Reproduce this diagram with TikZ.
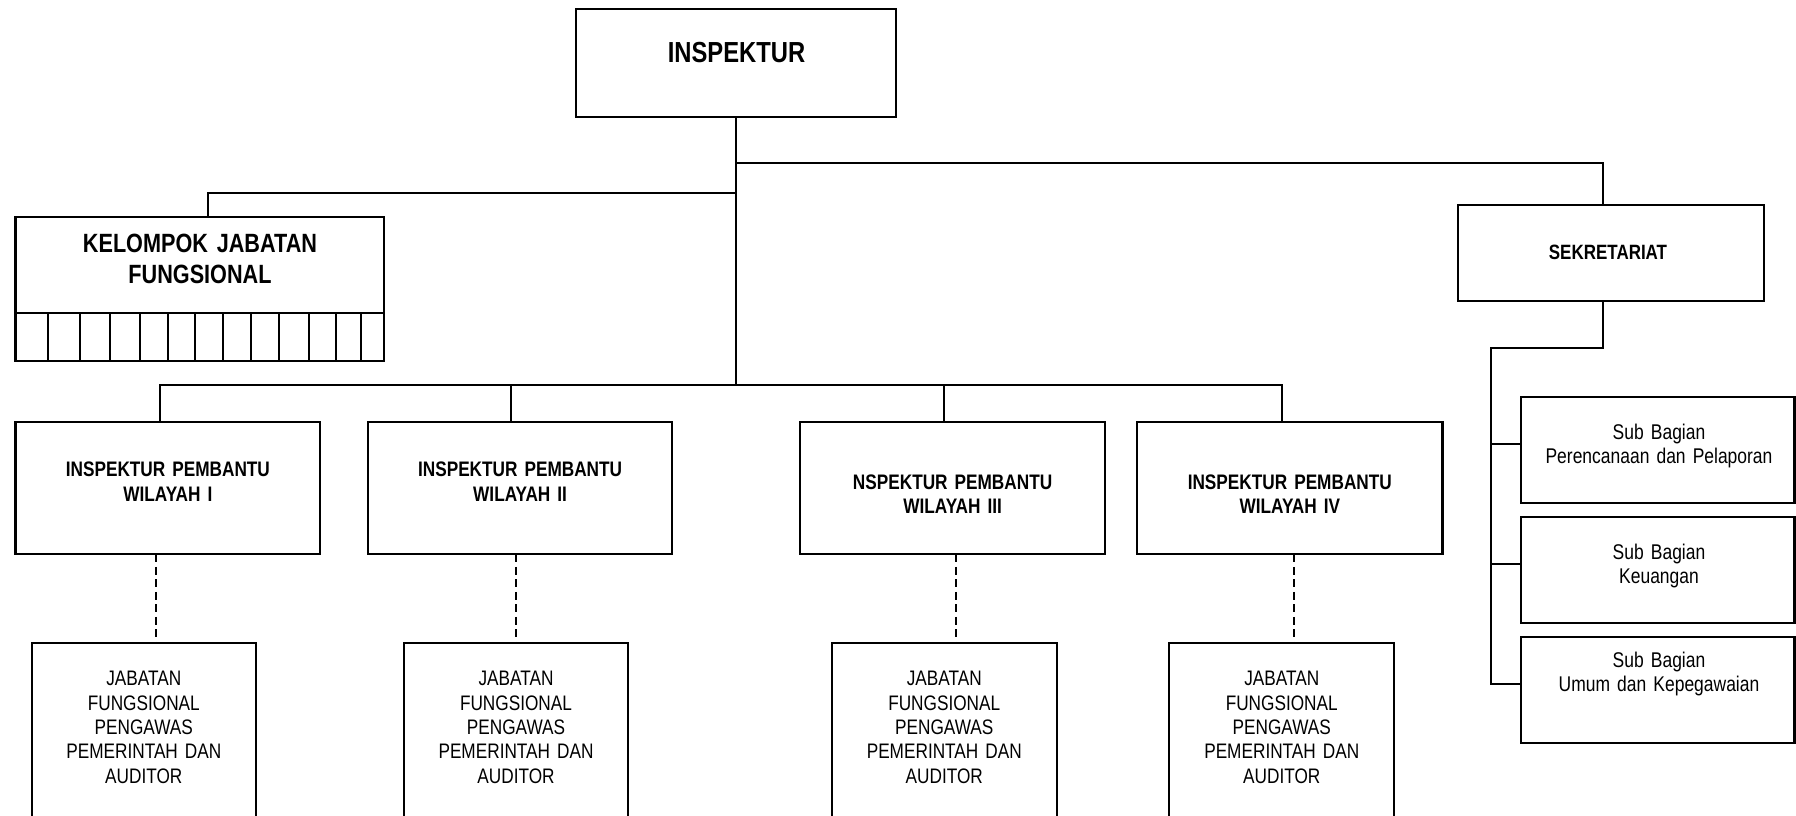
\documentclass[tikz,border=0pt]{standalone}
\usepackage{fontspec}
\newfontfamily\narrow{Liberation Sans}[FakeStretch=0.82]
% rectangle node given by its corners: name, x1, y1, x2, y2
\newcommand\orgrect[5]{%
  \node[orgbox, minimum width={(#4-#2)*1pt}, minimum height={(#5-#3)*1pt}]
    (#1) at ({(#2+#4)/2},{(#3+#5)/2}) {};}
\begin{document}
\begin{tikzpicture}[x=1pt,y=-1pt,
  orgbox/.style={draw, rectangle, line width=2.2pt, inner sep=0pt, outer sep=0pt},
  conn/.style={line width=2pt},
  dashlink/.style={line width=1.8pt, dash pattern=on 8pt off 4.5pt},
  txt/.style={anchor=base, inner sep=0pt, align=center, text width=320pt},
  headtxt/.style={txt, font=\narrow\bfseries\fontsize{29}{34}\selectfont},
  grouptxt/.style={txt, font=\narrow\bfseries\fontsize{26.4}{31}\selectfont},
  unittxt/.style={txt, font=\narrow\bfseries\fontsize{21}{24.3}\selectfont},
  sectxt/.style={txt, font=\narrow\bfseries\fontsize{20.7}{24.3}\selectfont},
  stafftxt/.style={txt, font=\narrow\fontsize{21}{24.4}\selectfont},
  subtxt/.style={txt, font=\narrow\fontsize{21.3}{24.6}\selectfont}]
\useasboundingbox (0,0) rectangle (1796,815);
\clip (0,0) rectangle (1796,815);

% ---- boxes ----
\orgrect{insp}{576}{9}{896}{116.7}
\orgrect{kjf}{15.5}{217}{384}{360.7}
\orgrect{sek}{1458}{204.7}{1764}{301}
\orgrect{ipw1}{15.5}{422}{320.3}{554.3}
\orgrect{ipw2}{368}{422}{672.2}{554.3}
\orgrect{ipw3}{800.2}{422}{1105}{554.3}
\orgrect{ipw4}{1137.1}{422}{1442.5}{554.3}
\orgrect{jf1}{31.6}{642.7}{256}{830}
\orgrect{jf2}{404}{642.7}{628}{830}
\orgrect{jf3}{831.8}{642.7}{1056.7}{830}
\orgrect{jf4}{1169.2}{642.7}{1394.3}{830}
\orgrect{sub1}{1521}{396.7}{1794.5}{502.7}
\orgrect{sub2}{1521}{516.7}{1794.5}{622.7}
\orgrect{sub3}{1521}{636.7}{1794.5}{742.7}

% cell strip along the bottom of the functional group box
\draw[line width=2.2pt] (kjf.west |- 0,312.7) -- (kjf.east |- 0,312.7);
\foreach \cx in {47.6,80.4,110.2,140.1,167.6,195.2,223.3,250.8,279,308.8,336.4,360.5}
  \draw[line width=2pt] (\cx,312.7) -- (\cx,360.7);

% ---- texts ----
\node[headtxt] (insp-t) at (736.5,62.3) {INSPEKTUR};
\node[grouptxt] (kjf-t) at (200,252.3) {KELOMPOK JABATAN\\FUNGSIONAL};
\node[sectxt] (sek-t) at (1608,259.3) {SEKRETARIAT};
\node[unittxt] (ipw1-t) at (167.9,476.7) {INSPEKTUR PEMBANTU\\WILAYAH I};
\node[unittxt] (ipw2-t) at (520.1,476.7) {INSPEKTUR PEMBANTU\\WILAYAH II};
\node[unittxt] (ipw3-t) at (952.6,489.3) {NSPEKTUR PEMBANTU\\WILAYAH III};
\node[unittxt] (ipw4-t) at (1289.8,489.3) {INSPEKTUR PEMBANTU\\WILAYAH IV};
\foreach \n/\cx in {1/143.8,2/516,3/944.25,4/1281.75}
  \node[stafftxt] (jf\n-t) at (\cx,685.7)
    {JABATAN\\FUNGSIONAL\\PENGAWAS\\PEMERINTAH DAN\\AUDITOR};
\node[subtxt] (sub1-t) at (1659,439.3) {Sub Bagian\\Perencanaan dan Pelaporan};
\node[subtxt] (sub2-t) at (1659,559.3) {Sub Bagian\\Keuangan};
\node[subtxt] (sub3-t) at (1659,667) {Sub Bagian\\Umum dan Kepegawaian};

% ---- connectors ----
\coordinate (sbus) at (736,163);
\coordinate (jbus) at (736,192.7);
\coordinate (bbus) at (736,385);
\draw[conn] (insp.south) -- (bbus);
\draw[conn] (sbus) -| ([xshift=-8pt]sek.north);
\draw[conn] (jbus) -| ([xshift=8pt]kjf.north);

\coordinate (d1) at ([xshift=-8.3pt]ipw1.north);
\coordinate (d2) at ([xshift=-8.7pt]ipw2.north);
\coordinate (d3) at ([xshift=-8.4pt]ipw3.north);
\coordinate (d4) at ([xshift=-8.1pt]ipw4.north);
\draw[conn] (d1) |- (bbus);
\draw[conn] (d4) |- (bbus);
\draw[conn] (d2) -- (d2 |- bbus);
\draw[conn] (d3) -- (d3 |- bbus);

\coordinate (e1) at ([xshift=-11.8pt]ipw1.south);
\coordinate (e2) at ([xshift=-4pt]ipw2.south);
\coordinate (e3) at ([xshift=3.7pt]ipw3.south);
\coordinate (e4) at ([xshift=4pt]ipw4.south);
\foreach \n in {1,2,3,4}
  \draw[dashlink] (e\n) -- (e\n |- jf\n.north);

\coordinate (s0) at ([xshift=-8pt]sek.south);
\coordinate (sk) at (1490.7,348.3);
\coordinate (b1) at ([yshift=5.4pt]sub1.west);
\coordinate (b2) at ([yshift=5.7pt]sub2.west);
\coordinate (b3) at ([yshift=5.7pt]sub3.west);
\draw[conn] (s0) |- (sk) -- (sk |- b3) -- (b3);
\draw[conn] (sk |- b1) -- (b1);
\draw[conn] (sk |- b2) -- (b2);
\end{tikzpicture}
\end{document}
